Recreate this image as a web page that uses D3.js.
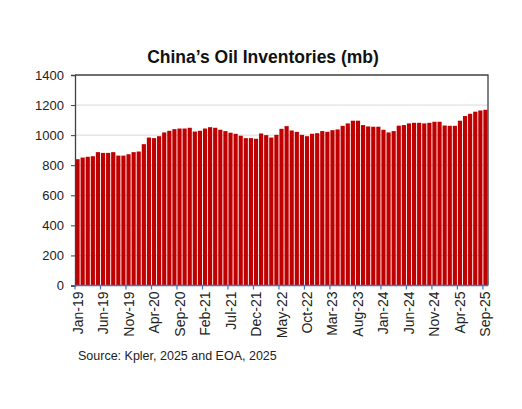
<!DOCTYPE html>
<html>
<head>
<meta charset="utf-8">
<script src="https://cdn.jsdelivr.net/npm/d3@7"></script>
<style>
  body { margin: 0; background: #fff; }
  svg { display: block; font-family: "Liberation Sans", Arial, sans-serif; }
</style>
</head>
<body>
<svg id="chart" width="522" height="409"></svg>
<script>
// Monthly inventories, Jan-19 .. Sep-25 (mb)
var months = [];
var monthNames = ["Jan","Feb","Mar","Apr","May","Jun","Jul","Aug","Sep","Oct","Nov","Dec"];
for (var yr = 19; yr <= 25; yr++) {
   for (var m = 0; m < 12; m++) {
      if (yr == 25 && m > 8) break;
      months.push(monthNames[m] + "-" + yr);
   }
}

var inventories = [
   840, 851, 856, 860, 887, 882, 882, 887, 864, 864, 873, 887,
   891, 940, 984, 980, 993, 1018, 1029, 1040, 1044, 1044, 1049, 1024,
   1029, 1044, 1053, 1049, 1036, 1027, 1016, 1009, 996, 980, 980, 976,
   1011, 1000, 984, 1002, 1042, 1060, 1031, 1022, 1002, 993, 1009, 1013,
   1027, 1022, 1033, 1038, 1062, 1078, 1096, 1096, 1067, 1058, 1056, 1056,
   1036, 1018, 1027, 1063, 1067, 1078, 1082, 1082, 1078, 1082, 1089, 1089,
   1064, 1062, 1062, 1096, 1127, 1142, 1156, 1164, 1169
];

var yTicks = [0, 200, 400, 600, 800, 1000, 1200, 1400];
// every fifth month is labelled
var labelMonths = months.filter(function(d, i){ return i % 5 == 0; });

window.onload = function(){
   drawChart();
};

function drawChart() {
   var svg = d3.select("#chart");
   var left = 75, right = 488, top = 75, bottom = 285.5;

   var x = d3.scaleBand()
      .domain(months)
      .range([left, right])
      .paddingInner(0.18)
      .paddingOuter(0.09);

   var y = d3.scaleLinear()
      .domain([0, 1400])
      .range([bottom, top]);

   // Title
   svg.append("text")
      .attr("x", 263)
      .attr("y", 63)
      .attr("text-anchor", "middle")
      .style("font-size", "17.5px")
      .style("font-weight", "bold")
      .style("fill", "#111")
      .text("China\u2019s Oil Inventories (mb)");

   // Gridlines
   svg.append("g")
      .selectAll("line")
      .data(yTicks.filter(function(d){ return d > 0 && d < 1400; }))
      .enter().append("line")
         .attr("x1", left).attr("x2", right)
         .attr("y1", function(d){ return y(d); })
         .attr("y2", function(d){ return y(d); })
         .style("stroke", "#d9d9d9")
         .style("stroke-width", 1);

   // Bars
   svg.append("g")
      .selectAll("rect")
      .data(inventories)
      .enter().append("rect")
         .attr("x", function(d, i){ return x(months[i]); })
         .attr("width", x.bandwidth())
         .attr("y", function(d){ return y(d); })
         .attr("height", function(d){ return bottom - y(d); })
         .style("fill", "#c00000");

   // Frame: top and right
   svg.append("path")
      .attr("d", "M" + left + "," + top + "H" + right + "V" + bottom)
      .style("fill", "none")
      .style("stroke", "#404040")
      .style("stroke-width", 1.3);

   // Y axis
   var yAxis = svg.append("g")
      .attr("transform", "translate(" + left + ",0)")
      .call(d3.axisLeft(y).tickValues(yTicks).tickFormat(d3.format("d")).tickSize(4).tickPadding(7));
   yAxis.select(".domain").style("stroke", "#404040").style("stroke-width", 1.3);
   yAxis.selectAll(".tick line").style("stroke", "#404040");
   yAxis.selectAll("text")
      .style("font-size", "13px")
      .style("fill", "#222")
      .style("font-family", "Liberation Sans, Arial, sans-serif");

   // X axis: ticks at left edges of labelled months
   var step = x.step();
   svg.append("line")
      .attr("x1", left).attr("x2", right)
      .attr("y1", bottom).attr("y2", bottom)
      .style("stroke", "#4472c4")
      .style("stroke-width", 1.3);

   svg.append("g")
      .selectAll("line")
      .data(labelMonths)
      .enter().append("line")
         .attr("x1", function(d){ return x(d) - step * 0.09; })
         .attr("x2", function(d){ return x(d) - step * 0.09; })
         .attr("y1", bottom).attr("y2", bottom + 4)
         .style("stroke", "#4472c4")
         .style("stroke-width", 1.2);

   svg.append("g")
      .selectAll("text")
      .data(labelMonths)
      .enter().append("text")
         .attr("transform", function(d){
            return "translate(" + (x(d) + x.bandwidth() / 2 + 5) + "," + (bottom + 6) + ") rotate(-90)";
         })
         .attr("text-anchor", "end")
         .style("font-size", "14px")
         .style("fill", "#222")
         .text(function(d){ return d; });

   // Source note
   svg.append("text")
      .attr("x", 78)
      .attr("y", 360)
      .style("font-size", "12.5px")
      .style("fill", "#222")
      .text("Source: Kpler, 2025 and EOA, 2025");
}
</script>
</body>
</html>
